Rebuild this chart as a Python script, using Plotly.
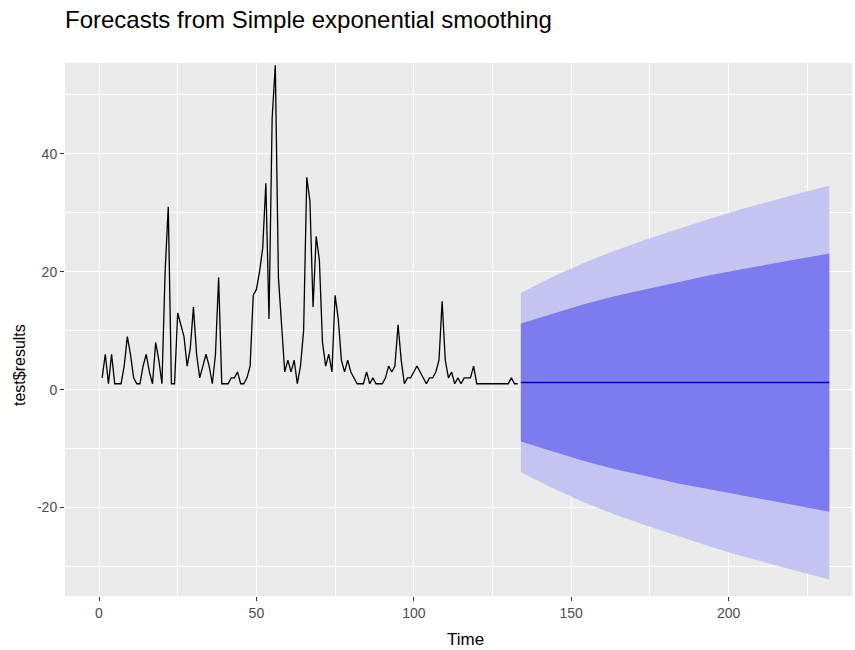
import plotly.graph_objects as go

# ---- data ----
series_values = [
    2, 6, 1, 6, 1, 1, 1, 4, 9, 6,
    2, 1, 1, 4, 6, 3, 1, 8, 5, 1,
    20, 31, 1, 1, 13, 11, 9, 4, 7, 14,
    6, 2, 4, 6, 4, 1, 6, 19, 1, 1,
    1, 2, 2, 3, 1, 1, 2, 4, 16, 17,
    20, 24, 35, 12, 46, 55, 19, 11, 3, 5,
    3, 5, 1, 4, 10, 36, 32, 14, 26, 22,
    8, 4, 6, 3, 16, 12, 5, 3, 5, 3,
    2, 1, 1, 1, 3, 1, 2, 1, 1, 1,
    2, 4, 3, 4, 11, 5, 1, 2, 2, 3,
    4, 3, 2, 1, 2, 2, 3, 5, 15, 5,
    2, 3, 1, 2, 1, 2, 2, 2, 4, 1,
    1, 1, 1, 1, 1, 1, 1, 1, 1, 1,
    2, 1, 1,
]
series_time = list(range(1, len(series_values) + 1))

forecast_time = [134, 232]
forecast_level = [1.2, 1.2]

band_time = [134, 144, 154, 164, 174, 184, 194, 204, 214, 224, 232]
upper95 = [16.4, 19.1, 21.5, 23.6, 25.5, 27.3, 29.0, 30.6, 32.1, 33.5, 34.6]
lower95 = [-14.0, -16.7, -19.1, -21.2, -23.1, -24.9, -26.6, -28.2, -29.7, -31.1, -32.2]
upper80 = [11.2, 12.9, 14.5, 15.9, 17.1, 18.3, 19.4, 20.4, 21.4, 22.3, 23.1]
lower80 = [-8.8, -10.5, -12.1, -13.5, -14.7, -15.9, -17.0, -18.0, -19.0, -19.9, -20.7]

x_ticks = [0, 50, 100, 150, 200]
x_tick_labels = ["0", "50", "100", "150", "200"]
x_minor = [25, 75, 125, 175, 225]
y_ticks = [-20, 0, 20, 40]
y_tick_labels = ["-20", "0", "20", "40"]
y_minor = [-30, -10, 10, 30, 50]

title_text = "Forecasts from Simple exponential smoothing"
x_title = "Time"
y_title = "test$results"

FONT = "Liberation Sans, Arial, sans-serif"

fig = go.Figure()

# 95% band
fig.add_trace(go.Scatter(
    x=band_time + band_time[::-1], y=upper95 + lower95[::-1],
    fill="toself", fillcolor="#C4C4F2", line=dict(width=0),
    mode="lines", hoverinfo="skip", showlegend=False))
# 80% band
fig.add_trace(go.Scatter(
    x=band_time + band_time[::-1], y=upper80 + lower80[::-1],
    fill="toself", fillcolor="#7C7CEE", line=dict(width=0),
    mode="lines", hoverinfo="skip", showlegend=False))
# point forecast
fig.add_trace(go.Scatter(
    x=forecast_time, y=forecast_level, mode="lines",
    line=dict(color="#0000B4", width=1.4), showlegend=False))
# observed series
fig.add_trace(go.Scatter(
    x=series_time, y=series_values, mode="lines",
    line=dict(color="black", width=1.3), showlegend=False))

axis_common = dict(
    showline=False, zeroline=False,
    showgrid=True, gridcolor="white", gridwidth=1.2,
    ticks="outside", ticklen=4, tickcolor="#333333", tickwidth=1,
    tickfont=dict(family=FONT, size=14, color="#4D4D4D"),
)

fig.update_layout(
    width=855, height=650,
    margin=dict(l=65, r=3, t=63, b=54),
    paper_bgcolor="white", plot_bgcolor="#EBEBEB",
    title=dict(text=title_text, x=65 / 855, xanchor="left", xref="container",
               y=1 - 20 / 650, yanchor="middle", yref="container",
               font=dict(family=FONT, size=24, color="black")),
    xaxis=dict(range=[-10.8, 239.2], tickmode="array", tickvals=x_ticks,
               ticktext=x_tick_labels,
               minor=dict(tickvals=x_minor, showgrid=True, gridcolor="white",
                          gridwidth=0.6, ticklen=0),
               **axis_common),
    yaxis=dict(range=[-35.0, 55.4], tickmode="array", tickvals=y_ticks,
               ticktext=y_tick_labels,
               minor=dict(tickvals=y_minor, showgrid=True, gridcolor="white",
                          gridwidth=0.6, ticklen=0),
               **axis_common),
    annotations=[
        dict(text=x_title, xref="paper", yref="paper", x=(465 - 65) / 787,
             y=-(639 - 596) / 533, xanchor="center", yanchor="middle",
             showarrow=False, font=dict(family=FONT, size=17, color="black")),
        dict(text=y_title, xref="paper", yref="paper", x=-(65 - 19) / 787,
             y=(596 - 365) / 533, xanchor="center", yanchor="middle",
             textangle=-90, showarrow=False,
             font=dict(family=FONT, size=16, color="black")),
    ],
)

fig.write_html("out.html")
